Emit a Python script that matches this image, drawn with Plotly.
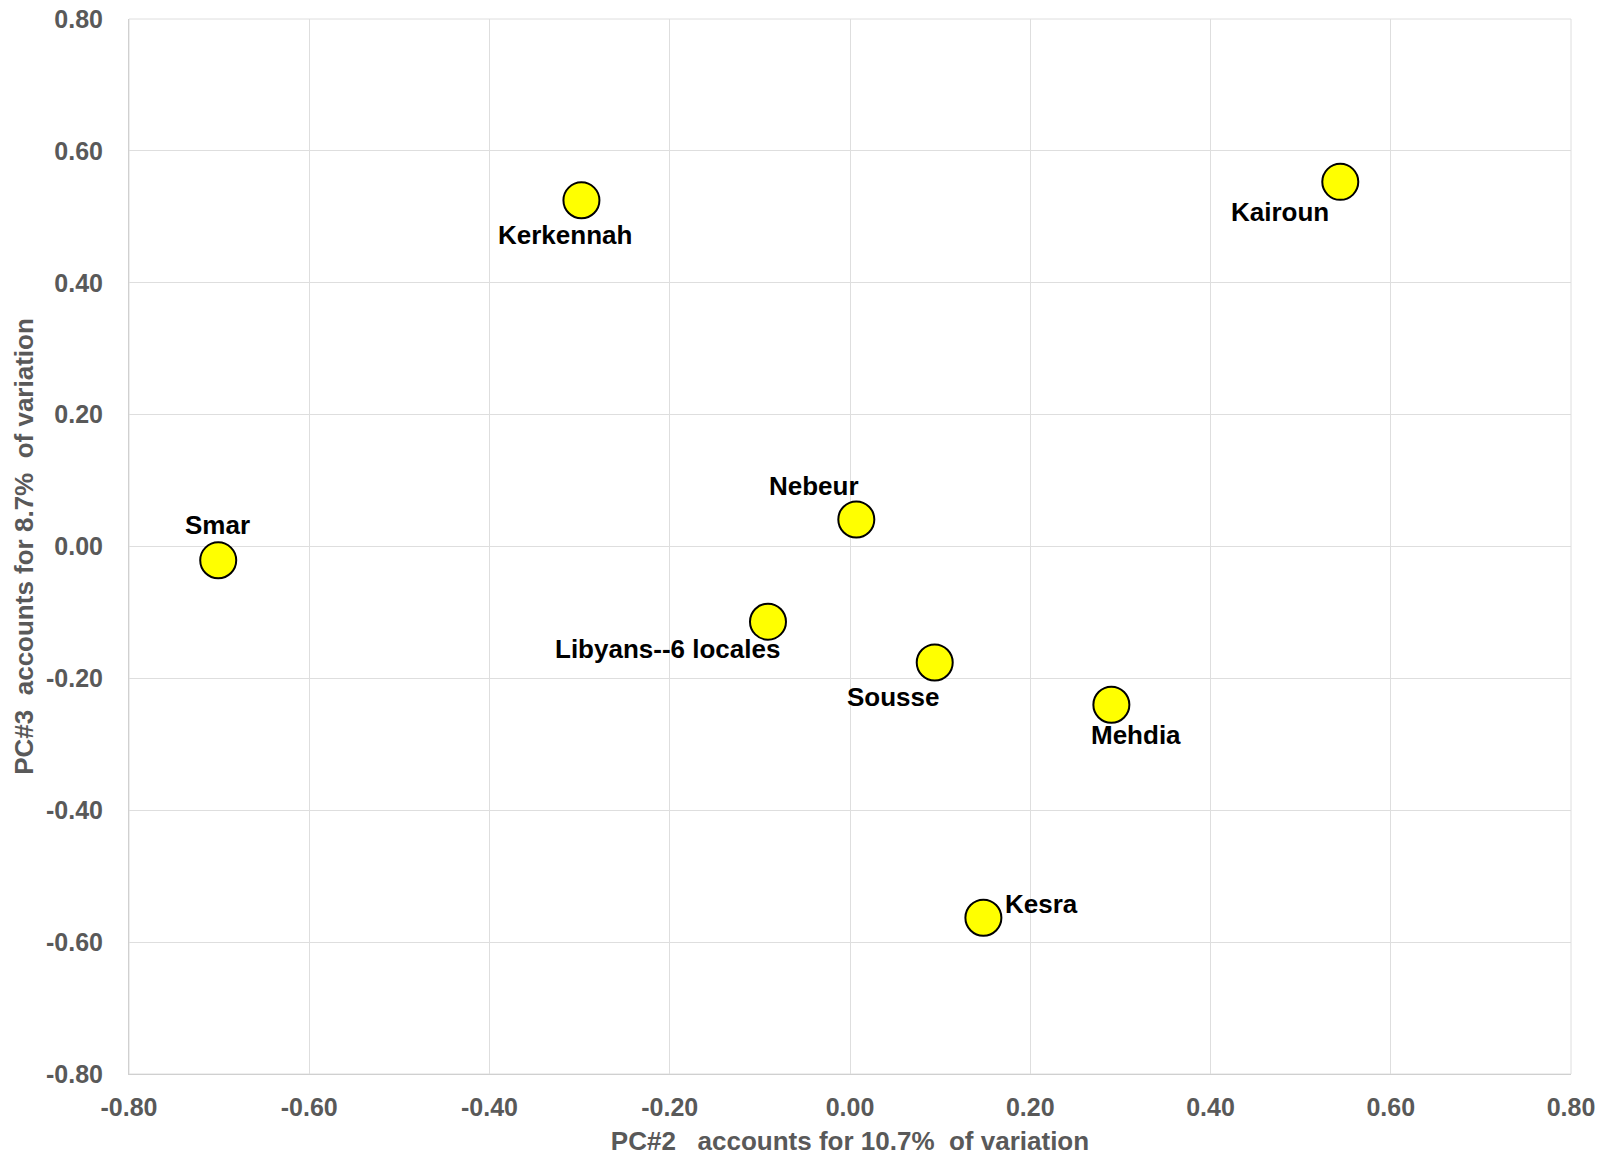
import plotly.graph_objects as go

# PCA scores for each locale
locales = ["Smar", "Kerkennah", "Kairoun", "Nebeur", "Libyans--6 locales",
           "Sousse", "Mehdia", "Kesra"]
pc2 = [-0.701, -0.298, 0.544, 0.007, -0.091, 0.094, 0.290, 0.148]
pc3 = [-0.021, 0.525, 0.553, 0.041, -0.114, -0.176, -0.240, -0.563]

# label offsets from each marker, in pixels (x right, y up)
label_dx = [-1, -16, -60, -42, -100, -41, 25, 58]
label_dy = [35, -35, -30, 33, -27, -34, -30, 14]

tick_vals = [-0.8, -0.6, -0.4, -0.2, 0.0, 0.2, 0.4, 0.6, 0.8]
tick_text = ["-0.80", "-0.60", "-0.40", "-0.20", "0.00", "0.20", "0.40", "0.60", "0.80"]

FONT = "Liberation Sans, Arial, sans-serif"
GREY = "#595959"
NB = "\u00a0"

fig = go.Figure()
fig.add_trace(go.Scatter(
    x=pc2, y=pc3, mode="markers",
    marker=dict(size=36, color="#ffff00", line=dict(color="#000000", width=2)),
    hoverinfo="text", text=locales, showlegend=False,
))

for name, x, y, dx, dy in zip(locales, pc2, pc3, label_dx, label_dy):
    fig.add_annotation(
        x=x, y=y, text=f"<b>{name}</b>", showarrow=False,
        xshift=dx, yshift=dy,
        font=dict(family=FONT, size=26, color="#000000"),
    )

axis_common = dict(
    range=[-0.8, 0.8], tickvals=tick_vals, ticktext=tick_text,
    showgrid=True, gridcolor="#dedede", gridwidth=1,
    zeroline=False, showline=True, linecolor="#d0d0d0", linewidth=1,
    mirror=False, ticks="", automargin=False,
    tickfont=dict(family=FONT, size=25, color=GREY, weight="bold"),
)

fig.update_layout(
    width=1610, height=1158,
    margin=dict(l=129, r=39, t=19, b=84),
    paper_bgcolor="#ffffff", plot_bgcolor="#ffffff",
    xaxis=dict(
        **axis_common,
        ticklabelstandoff=11,
        title=dict(
            text=f"<b>PC#2{NB*3}accounts for 10.7%{NB*2}of variation</b>",
            font=dict(family=FONT, size=26, color=GREY), standoff=11,
        ),
    ),
    yaxis=dict(
        **axis_common,
        ticklabelstandoff=20,
        title=dict(
            text=f"<b>PC#3{NB*2}accounts for 8.7%{NB*2}of variation</b>",
            font=dict(family=FONT, size=26, color=GREY), standoff=4,
        ),
    ),
)

# outer border of the plotting area
fig.add_shape(type="rect", xref="paper", yref="paper", x0=0, y0=0, x1=1, y1=1,
              line=dict(color="#dedede", width=1), layer="below")

fig.write_html("out.html")
